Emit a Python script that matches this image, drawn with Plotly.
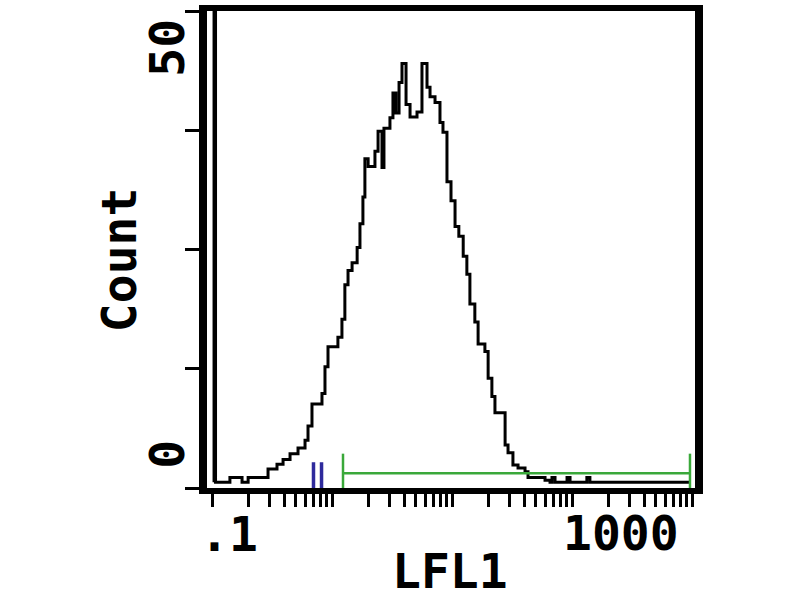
import plotly.graph_objects as go

# LFL1 channel value where each step of the histogram starts, and its count
lfl1 = [0.104, 0.104, 0.107, 0.141, 0.178, 0.200, 0.293, 0.348, 0.391, 0.447,
        0.521, 0.596, 0.631, 0.681, 0.825, 0.874, 0.926, 1.12, 1.21, 1.28,
        1.36, 1.47, 1.62, 1.71, 1.81, 1.88, 2.00, 2.28, 2.42, 2.61,
        2.71, 3.04, 3.22, 3.41, 3.62, 3.83, 4.14, 4.47, 5.11, 5.62,
        6.19, 6.56, 7.22, 7.94, 8.41, 9.08, 9.81, 10.6, 11.4, 12.4,
        13.3, 14.1, 15.5, 16.5, 18.8, 20.0, 21.5, 22.8, 27.7, 29.3,
        32.2, 35.5, 40.6, 43.0, 59.6, 65.6, 68.1, 72.2, 90.9, 96.3,
        133, 141, 962]
count = [0.6, 60, 0.6, 1.1, 0.6, 1.1, 2.0, 2.5, 3.0, 3.6,
         4.2, 5.0, 6.5, 8.8, 9.9, 12.7, 14.8, 15.8, 17.7, 21.3,
         22.8, 23.6, 25.2, 27.7, 30.5, 34.5, 33.7, 35.3, 37.4, 33.6,
         37.7, 38.8, 41.4, 39.3, 42.5, 44.5, 40.2, 38.9, 39.4, 44.5,
         42.0, 41.0, 40.4, 38.3, 37.3, 32.1, 30.1, 27.4, 26.4, 24.3,
         22.4, 19.3, 17.4, 15.1, 14.3, 11.5, 9.6, 7.9, 4.5, 3.7,
         2.4, 2.1, 1.7, 1.1, 0.8, 0.6, 1.1, 0.6, 1.1, 0.6,
         1.1, 0.6, 0.6]

# gate markers
gate_x = [1.235, 962]
gate_level = 1.55
gate_tick = [3.6, -0.5]
cursor_x = [0.701, 0.818]
cursor_y = [2.7, -0.5]

y_ticks = [0, 12.5, 25, 37.5, 50]
x_ticks = [d * 10 ** k for k in range(-1, 3) for d in range(1, 10)] + [1000]

FONT = "DejaVu Sans Mono"
GREEN = "#3aa83a"
BLUE = "#2e2a9c"

fig = go.Figure()

fig.add_trace(go.Scatter(
    x=lfl1, y=count, mode="lines", line_shape="hv",
    line=dict(color="black", width=3), showlegend=False,
))

# green gate: two end ticks joined by a horizontal bar
gx, gy = [], []
for x in gate_x:
    gx += [x, x, None]
    gy += [gate_tick[0], gate_tick[1], None]
gx += [gate_x[0], gate_x[1]]
gy += [gate_level, gate_level]
fig.add_trace(go.Scatter(x=gx, y=gy, mode="lines",
                         line=dict(color=GREEN, width=2.5), showlegend=False))

# blue cursor marks
bx, by = [], []
for x in cursor_x:
    bx += [x, x, None]
    by += [cursor_y[0], cursor_y[1], None]
fig.add_trace(go.Scatter(x=bx, y=by, mode="lines",
                         line=dict(color=BLUE, width=3.5), showlegend=False))

fig.update_xaxes(
    type="log", range=[-1.0417, 3.025],
    tickvals=x_ticks, ticks="outside", ticklen=13, tickwidth=3, tickcolor="black",
    showticklabels=False, showgrid=False, zeroline=False,
    showline=True, linewidth=6, linecolor="black", mirror=True,
)
fig.update_yaxes(
    range=[0, 50],
    tickvals=y_ticks, ticks="outside", ticklen=14, tickwidth=3, tickcolor="black",
    showticklabels=False, showgrid=False, zeroline=False,
    showline=True, linewidth=8, linecolor="black", mirror=True,
)

txt = dict(family=FONT, size=48, color="black", weight="bold")
labels = [
    (".1", 0.045, -0.097, 0),
    ("1000", 0.848, -0.095, 0),
    ("LFL1", 0.498, -0.175, 0),
    ("Count", -0.180, 0.478, -90),
    ("50", -0.082, 0.923, -90),
    ("0", -0.082, 0.072, -90),
]
for t, x, y, ang in labels:
    fig.add_annotation(text=t, x=x, y=y, xref="paper", yref="paper",
                       showarrow=False, textangle=ang, font=txt,
                       xanchor="center", yanchor="middle")

fig.update_layout(
    width=800, height=600,
    margin=dict(l=207, r=105, t=5, b=112),
    paper_bgcolor="white", plot_bgcolor="white",
)

fig.write_html("out.html", config={"displayModeBar": False},
               post_script="document.body.style.margin='0';")
